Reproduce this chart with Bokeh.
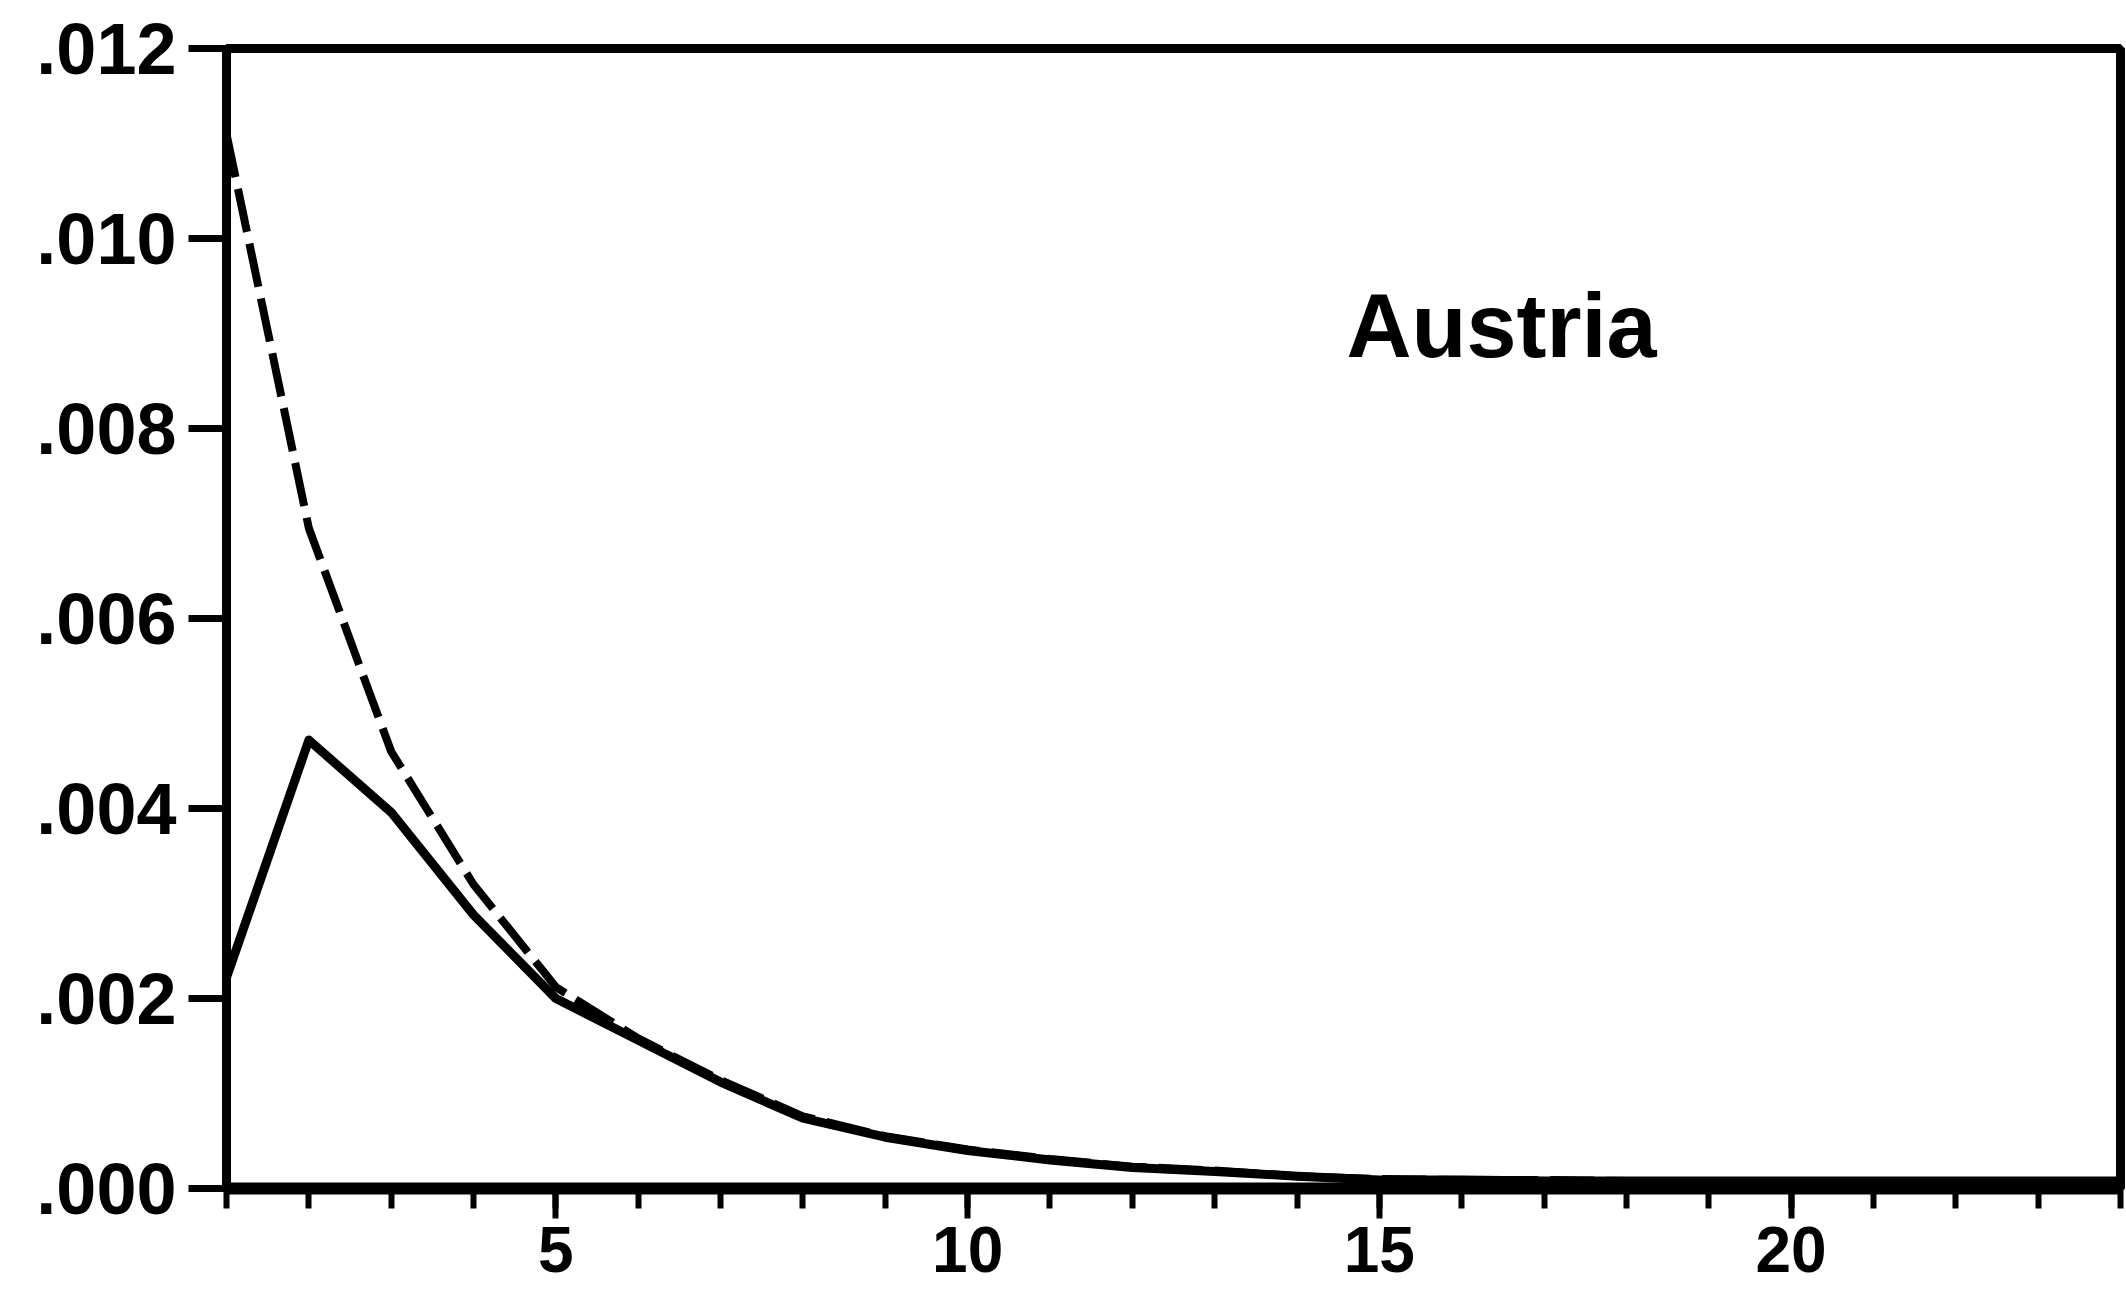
from bokeh.plotting import figure
from bokeh.models import Range1d, FixedTicker, CustomJSTickFormatter
from bokeh.core.properties import value
from bokeh.embed import file_html
from bokeh.resources import INLINE

# Horizon (periods) and the two response paths
periods = list(range(1, 25))
response_solid = [0.00222, 0.00472, 0.00396, 0.00288, 0.00200, 0.00156, 0.00112, 0.00074,
                  0.00054, 0.00040, 0.00030, 0.00022, 0.00018, 0.00013, 0.00009, 0.00009,
                  0.00008, 0.00008, 0.00008, 0.00008, 0.00008, 0.00008, 0.00008, 0.00008]
response_dashed = [0.01110, 0.00695, 0.00460, 0.00320, 0.00212, 0.00158, 0.00114, 0.00076,
                   0.00055, 0.00041, 0.00031, 0.00023, 0.00019, 0.00013, 0.00010, 0.00009,
                   0.00009, 0.00008, 0.00008, 0.00008, 0.00008, 0.00008, 0.00008, 0.00008]

y_ticks = [0.0, 0.002, 0.004, 0.006, 0.008, 0.010, 0.012]
x_major_ticks = [5, 10, 15, 20]
x_minor_ticks = list(range(1, 25))
panel_label = "Austria"

FONT = "Liberation Sans"

p = figure(width=2126, height=1293,
           x_range=Range1d(1, 24), y_range=Range1d(0, 0.012),
           output_backend="svg", toolbar_location=None,
           min_border_left=226, min_border_right=6,
           min_border_top=48, min_border_bottom=105)

p.background_fill_color = "white"
p.border_fill_color = "white"
p.outline_line_color = "black"
p.outline_line_width = 9
p.xgrid.visible = False
p.ygrid.visible = False

# x axis: ticks every period, labels every fifth
xa = p.xaxis[0]
xa.ticker = FixedTicker(ticks=x_major_ticks, minor_ticks=x_minor_ticks)
xa.axis_line_width = 12
xa.axis_line_color = "black"
xa.major_tick_out = 30
xa.major_tick_in = 0
xa.minor_tick_out = 20
xa.minor_tick_in = 0
xa.major_tick_line_width = 6
xa.minor_tick_line_width = 6
xa.major_label_text_font = FONT
xa.major_label_text_font_style = "bold"
xa.major_label_text_font_size = "64px"
xa.major_label_text_color = "black"
xa.major_label_standoff = 8

# y axis: labels written without the leading zero
ya = p.yaxis[0]
ya.ticker = FixedTicker(ticks=y_ticks, minor_ticks=[])
ya.formatter = CustomJSTickFormatter(code="return tick.toFixed(3).replace(/^0/, '');")
ya.axis_line_width = 8
ya.axis_line_color = "black"
ya.major_tick_out = 38
ya.major_tick_in = 0
ya.minor_tick_out = 0
ya.minor_tick_in = 0
ya.major_tick_line_width = 7
ya.major_label_text_font = FONT
ya.major_label_text_font_style = "bold"
ya.major_label_text_font_size = "72px"
ya.major_label_text_color = "black"
ya.major_label_standoff = 12

p.line(periods, response_dashed, line_color="black", line_width=8,
       line_dash="44 12", line_join="round")
p.line(periods, response_solid, line_color="black", line_width=9,
       line_join="round")

p.text(x=[14.6], y=[0.00908], text=[panel_label],
       text_font=value(FONT), text_font_style="bold",
       text_font_size="90px", text_color="black",
       text_align="left", text_baseline="alphabetic")

open("out.html", "w").write(file_html(p, INLINE))
